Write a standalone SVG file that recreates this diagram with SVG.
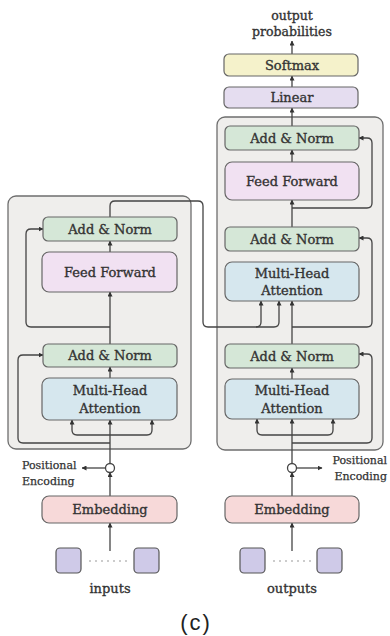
<svg xmlns="http://www.w3.org/2000/svg" width="390" height="636" viewBox="0 0 390 636">
  <defs>
    <marker id="arr" viewBox="0 0 10 10" refX="9" refY="5" markerWidth="5" markerHeight="5" orient="auto-start-reverse" markerUnits="userSpaceOnUse">
      <path d="M0,0 L10,5 L0,10 z" fill="#333"/>
    </marker>
    <style>
      .stack { fill: #efeeec; stroke: #6e6e6e; stroke-width: 1.3; }
      .node rect { stroke: #666; stroke-width: 1.2; }
      .addnorm rect { fill: #d5e7d7; }
      .ff rect { fill: #f1e1f2; }
      .mha rect { fill: #d6e7ee; }
      .emb rect { fill: #f7d9d9; }
      .softmax rect { fill: #f5f2cb; }
      .linear rect { fill: #e5ddf0; }
      .tok rect { fill: #cfcae8; stroke: #555; stroke-width: 1.2; }
      text { font-family: "DejaVu Serif", "Liberation Serif", serif; fill: #333; stroke: #333; stroke-width: 0.35; }
      .lbl { font-size: 13px; text-anchor: middle; }
      .small { font-size: 11px; stroke-width: 0.25; }
      .cap { font-family: "Liberation Sans", Arial, sans-serif; font-size: 22px; text-anchor: middle; letter-spacing: 2px; fill: #222; stroke: none; }
      #connectors path, #connectors line { fill: none; stroke: #444; stroke-width: 1.3; }
      .arrow { marker-end: url(#arr); }
      .dots { stroke: #999; stroke-width: 1.2; stroke-dasharray: 2 4; }
      .pe { fill: #fff; stroke: #444; stroke-width: 1.3; }
    </style>
  </defs>

  <!-- stack backgrounds -->
  <rect id="encoder-stack" class="stack" x="8" y="196" width="183" height="253" rx="8"/>
  <rect id="decoder-stack" class="stack" x="217" y="117" width="166" height="333" rx="8"/>

  <!-- connectors -->
  <g id="connectors">
    <!-- encoder -->
    <line class="arrow" x1="110" y1="463.5" x2="110" y2="420"/>
    <path class="arrow" d="M110,435 H77 Q72,435 72,430 V420"/>
    <path class="arrow" d="M110,435 H147 Q152,435 152,430 V420"/>
    <path class="arrow" d="M110,443 H23 Q18,443 18,438 V360 Q18,355 23,355 H43"/>
    <line class="arrow" x1="110" y1="378" x2="110" y2="367"/>
    <line class="arrow" x1="110" y1="344" x2="110" y2="292"/>
    <path class="arrow" d="M110,327 H31 Q26,327 26,322 V234 Q26,229 31,229 H43"/>
    <line class="arrow" x1="110" y1="252" x2="110" y2="241"/>
    <!-- encoder output into decoder attention -->
    <path class="arrow" d="M110,217 V206 Q110,201 115,201 H198 Q203,201 203,206 V322 Q203,327 208,327 H256 Q261,327 261,322 V301"/>
    <path class="arrow" d="M256,327 H274 Q279,327 279,322 V301"/>

    <!-- decoder -->
    <line class="arrow" x1="292" y1="463.5" x2="292" y2="419"/>
    <path class="arrow" d="M292,435 H262 Q257,435 257,430 V419"/>
    <path class="arrow" d="M292,435 H328 Q333,435 333,430 V419"/>
    <path class="arrow" d="M292,443 H367 Q372,443 372,438 V359 Q372,354 367,354 H359"/>
    <line class="arrow" x1="292" y1="379" x2="292" y2="368"/>
    <line class="arrow" x1="292" y1="344" x2="292" y2="301"/>
    <path class="arrow" d="M292,327 H367 Q372,327 372,322 V243 Q372,238 367,238 H359"/>
    <line class="arrow" x1="292" y1="227" x2="292" y2="200"/>
    <path class="arrow" d="M292,208 H367 Q372,208 372,203 V143 Q372,138 367,138 H359"/>
    <line class="arrow" x1="292" y1="162" x2="292" y2="150"/>
    <line class="arrow" x1="292" y1="126" x2="292" y2="108"/>
    <line class="arrow" x1="292" y1="87" x2="292" y2="76"/>
    <line class="arrow" x1="292" y1="54" x2="292" y2="41"/>

    <!-- embeddings and positional encoding -->
    <line class="arrow" x1="110" y1="496" x2="110" y2="472.5"/>
    <line class="arrow" x1="105.5" y1="468" x2="82" y2="468"/>
    <line class="arrow" x1="110" y1="551" x2="110" y2="523"/>
    <line class="arrow" x1="292" y1="496" x2="292" y2="472.5"/>
    <line class="arrow" x1="296.5" y1="468" x2="322" y2="468"/>
    <line class="arrow" x1="292" y1="551" x2="292" y2="523"/>
  </g>

  <!-- encoder nodes -->
  <g id="enc-addnorm-2" class="node addnorm">
    <rect x="43" y="217" width="134" height="24" rx="5"/>
    <text class="lbl" x="110" y="233.5">Add &amp; Norm</text>
  </g>
  <g id="enc-feedforward" class="node ff">
    <rect x="42" y="252" width="135" height="40" rx="7"/>
    <text class="lbl" x="110" y="276.5">Feed Forward</text>
  </g>
  <g id="enc-addnorm-1" class="node addnorm">
    <rect x="43" y="344" width="134" height="23" rx="5"/>
    <text class="lbl" x="110" y="360">Add &amp; Norm</text>
  </g>
  <g id="enc-attention" class="node mha">
    <rect x="42" y="378" width="135" height="42" rx="7"/>
    <text class="lbl" x="110" y="395">Multi-Head</text>
    <text class="lbl" x="110" y="413">Attention</text>
  </g>

  <!-- decoder nodes -->
  <g id="softmax" class="node softmax">
    <rect x="224" y="54" width="134" height="22" rx="5"/>
    <text class="lbl" x="292" y="69.5">Softmax</text>
  </g>
  <g id="linear" class="node linear">
    <rect x="224" y="87" width="134" height="21" rx="5"/>
    <text class="lbl" x="292" y="102">Linear</text>
  </g>
  <g id="dec-addnorm-3" class="node addnorm">
    <rect x="225" y="126" width="134" height="24" rx="5"/>
    <text class="lbl" x="292" y="142.5">Add &amp; Norm</text>
  </g>
  <g id="dec-feedforward" class="node ff">
    <rect x="225" y="162" width="134" height="38" rx="7"/>
    <text class="lbl" x="292" y="185.5">Feed Forward</text>
  </g>
  <g id="dec-addnorm-2" class="node addnorm">
    <rect x="225" y="227" width="134" height="24" rx="5"/>
    <text class="lbl" x="292" y="243.5">Add &amp; Norm</text>
  </g>
  <g id="dec-cross-attention" class="node mha">
    <rect x="225" y="262" width="134" height="39" rx="7"/>
    <text class="lbl" x="292" y="278">Multi-Head</text>
    <text class="lbl" x="292" y="295">Attention</text>
  </g>
  <g id="dec-addnorm-1" class="node addnorm">
    <rect x="225" y="344" width="134" height="24" rx="5"/>
    <text class="lbl" x="292" y="360.5">Add &amp; Norm</text>
  </g>
  <g id="dec-self-attention" class="node mha">
    <rect x="225" y="379" width="134" height="40" rx="7"/>
    <text class="lbl" x="292" y="395">Multi-Head</text>
    <text class="lbl" x="292" y="413">Attention</text>
  </g>

  <!-- positional encoding junctions -->
  <g id="enc-posenc">
    <circle class="pe" cx="110" cy="468" r="4.5"/>
    <text class="small" x="22" y="469">Positional</text>
    <text class="small" x="22" y="485">Encoding</text>
  </g>
  <g id="dec-posenc">
    <circle class="pe" cx="292" cy="468" r="4.5"/>
    <text class="small" x="387" y="464" text-anchor="end">Positional</text>
    <text class="small" x="387" y="480" text-anchor="end">Encoding</text>
  </g>

  <!-- embeddings -->
  <g id="enc-embedding" class="node emb">
    <rect x="42" y="496" width="135" height="27" rx="7"/>
    <text class="lbl" x="110" y="514">Embedding</text>
  </g>
  <g id="dec-embedding" class="node emb">
    <rect x="225" y="496" width="134" height="27" rx="7"/>
    <text class="lbl" x="292" y="514">Embedding</text>
  </g>

  <!-- token sequences -->
  <g id="inputs" class="tok">
    <rect x="56" y="548" width="25" height="25" rx="4"/>
    <rect x="134" y="548" width="25" height="25" rx="4"/>
    <line class="dots" x1="89" y1="561" x2="128" y2="561"/>
    <text class="lbl" x="110" y="593">inputs</text>
  </g>
  <g id="outputs" class="tok">
    <rect x="240" y="548" width="25" height="25" rx="4"/>
    <rect x="317" y="548" width="25" height="25" rx="4"/>
    <line class="dots" x1="273" y1="561" x2="312" y2="561"/>
    <text class="lbl" x="292" y="593">outputs</text>
  </g>

  <!-- output label -->
  <g id="output-probabilities">
    <text class="lbl" x="292" y="20" style="font-size:12.5px">output</text>
    <text class="lbl" x="292" y="36" style="font-size:12.5px">probabilities</text>
  </g>

  <text class="cap" x="196" y="630">(c)</text>
</svg>
